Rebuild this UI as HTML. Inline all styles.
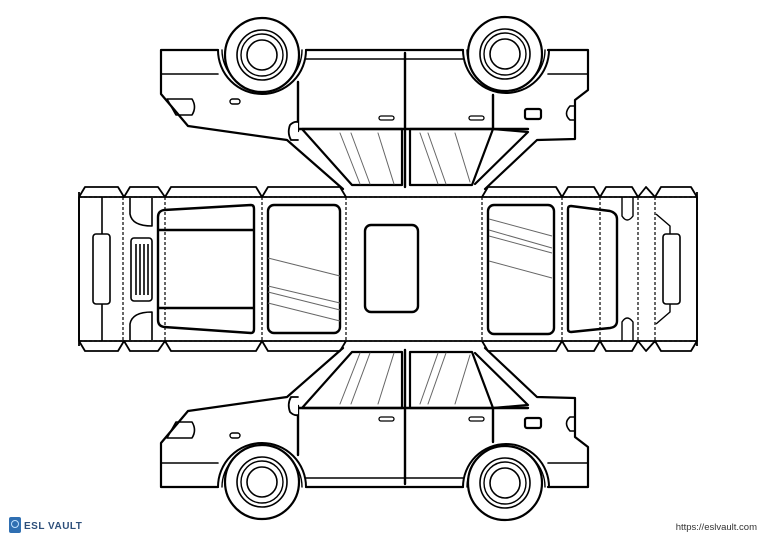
<!DOCTYPE html>
<html><head><meta charset="utf-8"><style>
html,body{margin:0;padding:0;background:#fff;width:768px;height:543px;overflow:hidden}
svg{display:block}
</style></head><body>
<svg width="768" height="543" viewBox="0 0 768 543" xmlns="http://www.w3.org/2000/svg">
<defs>
<g id="car" fill="none" stroke="#000" stroke-linejoin="round" stroke-linecap="round">
  <!-- body -->
  <path d="M218,487 L161,487 L161,443 L188,411 L287,397 L343,348 M485,348 L537,397 L575,398 L575,437 L588,447 L588,487 L548,487 M306,487 L463,487" stroke-width="2.2"/>
  <path d="M161,463 L218,463 M548,463 L588,463 M306,478 L463,478" stroke-width="1.6"/>
  <!-- arches -->
  <path d="M218,487 A44,44 0 0 1 306,487 M463,487 A43,43 0 0 1 549,487" stroke-width="2"/>
  <path d="M222,487 A40,40 0 0 1 302,487 M467,487 A39,39 0 0 1 545,487" stroke-width="1.4"/>
  <!-- windows -->
  <path d="M302,408 L352,352 L402,352 L402,408 Z" stroke-width="2.2"/>
  <path d="M410,352 L472,352 L493,408 L410,408 Z" stroke-width="2.2"/>
  <path d="M475,353 L528,405 L493,408" stroke-width="2.2"/>
  <path d="M340,404 L360,353 M351,404 L370,353 M378,404 L394,353 M420,404 L438,353 M428,404 L446,353 M455,404 L470,355" stroke="#666" stroke-width="1"/>
  <!-- doors -->
  <path d="M298,406 L298,455 M405,350 L405,484 M493,408 L493,442 M298,408 L528,408" stroke-width="2.4"/>
  <!-- mirror -->
  <path d="M298,397 L291,397 Q287,404 290,412 Q294,416 298,415" fill="#fff" stroke-width="1.8"/>
  <!-- headlight -->
  <path d="M167,438 L176,422 L192,422 Q197,430 192,438 Z" stroke-width="1.6"/>
  <rect x="230" y="433" width="10" height="5" rx="2.5" stroke-width="1.4"/>
  <rect x="379" y="417" width="15" height="4" rx="2" stroke-width="1.3"/>
  <rect x="469" y="417" width="15" height="4" rx="2" stroke-width="1.3"/>
  <rect x="525" y="418" width="16" height="10" rx="2" stroke-width="2.2"/>
  <path d="M575,417 L570,417 Q563,423 570,431 L575,431" stroke-width="1.6"/>
  <!-- wheels -->
  <g fill="#fff">
    <circle cx="262" cy="482" r="37" stroke-width="2.2"/>
    <circle cx="262" cy="482" r="25" stroke-width="1.6"/>
    <circle cx="262" cy="482" r="21" stroke-width="1.4"/>
    <circle cx="262" cy="482" r="15" stroke-width="1.6"/>
    <circle cx="505" cy="483" r="37" stroke-width="2.2"/>
    <circle cx="505" cy="483" r="25" stroke-width="1.6"/>
    <circle cx="505" cy="483" r="21" stroke-width="1.4"/>
    <circle cx="505" cy="483" r="15" stroke-width="1.6"/>
  </g>
</g>
</defs>

<use href="#car"/>
<use href="#car" transform="translate(0,537) scale(1,-1)"/>

<!-- central strip -->
<g fill="none" stroke="#000" stroke-linejoin="round">
  <!-- tabs top -->
  <path d="M79,197 L85,187 L118,187 L124,197 L130,187 L158,187 L165,197 L171,187 L256,187 L262,197 L268,187 L340,187 L346,197 M482,197 L488,187 L556,187 L562,197 L568,187 L594,187 L600,197 L606,187 L632,187 L638,197 L646,187 L655,197 L661,187 L691,187 L697,197" stroke-width="1.8"/>
  <path d="M79,341 L85,351 L118,351 L124,341 L130,351 L158,351 L165,341 L171,351 L256,351 L262,341 L268,351 L340,351 L346,341 M482,341 L488,351 L556,351 L562,341 L568,351 L594,351 L600,341 L606,351 L632,351 L638,341 L646,351 L655,341 L661,351 L691,351 L697,341" stroke-width="1.8"/>
  <rect x="79" y="197" width="618" height="144" stroke-width="1.8"/>
  <path d="M79,197 L697,197 M79,341 L697,341 M123,197 L123,341 M165,197 L165,341 M262,197 L262,341 M346,197 L346,341 M482,197 L482,341 M562,197 L562,341 M600,197 L600,341 M638,197 L638,341 M655,197 L655,341" stroke-width="1.2" stroke-dasharray="3,2"/>
  <path d="M79,192 L79,346 M697,192 L697,346" stroke-width="1.8"/>
  <!-- left bumper -->
  <path d="M102,197 L102,341" stroke-width="1.6"/>
  <rect x="93" y="234" width="17" height="70" rx="3" fill="#fff" stroke-width="1.6"/>
  <!-- grille -->
  <rect x="131" y="238" width="21" height="63" rx="3" stroke-width="1.6"/>
  <path d="M136,244 V295 M140,244 V295 M144,244 V295 M148,244 V295" stroke-width="1.6"/>
  <path d="M130,198 L130,214 Q132,226 152,226 L152,198" stroke-width="1.6"/>
  <path d="M130,340 L130,324 Q132,312 152,312 L152,340" stroke-width="1.6"/>
  <!-- hood window -->
  <path d="M164,210 L251,205 Q254,205 254,209 L254,329 Q254,333 251,333 L164,327 Q158,326 158,320 L158,217 Q158,211 164,210 Z" stroke-width="2.4"/>
  <path d="M158,230 L254,230 M158,308 L254,308" stroke-width="2.4"/>
  <!-- windshield -->
  <rect x="268" y="205" width="72" height="128" rx="6" stroke-width="2.4"/>
  <path d="M268,258 L340,276 M268,286 L340,303 M268,292 L340,310 M268,303 L340,321" stroke="#666" stroke-width="1"/>
  <!-- roof -->
  <rect x="365" y="225" width="53" height="87" rx="6" stroke-width="2.4"/>
  <!-- rear window -->
  <rect x="488" y="205" width="66" height="129" rx="6" stroke-width="2.4"/>
  <path d="M489,219 L552,236 M489,230 L552,248 M489,236 L552,253 M489,261 L552,278" stroke="#666" stroke-width="1"/>
  <!-- trunk window -->
  <path d="M571,206 L610,211 Q617,213 617,219 L617,321 Q617,327 610,328 L571,332 Q568,332 568,329 L568,209 Q568,206 571,206 Z" stroke-width="2.4"/>
  <path d="M622,197 L622,216 Q627,224 633,216 L633,197 M622,341 L622,322 Q627,314 633,322 L633,341" stroke-width="1.4"/>
  <!-- rear -->
  <path d="M656,214 L670,226 L670,312 L656,324" stroke-width="1.4"/>
  <rect x="663" y="234" width="17" height="70" rx="3" fill="#fff" stroke-width="1.6"/>
</g>

<!-- footer -->
<rect x="9" y="517" width="12" height="16" rx="2" fill="#2f6fb2"/>
<circle cx="15" cy="524" r="3.5" fill="none" stroke="#bfe0ff" stroke-width="1"/>
<text x="24" y="529" font-family="Liberation Sans, sans-serif" font-size="10" font-weight="bold" fill="#2d4f7a" letter-spacing="0.5">ESL VAULT</text>
<text x="757" y="530" text-anchor="end" font-family="Liberation Sans, sans-serif" font-size="9.5" fill="#333">https://eslvault.com</text>
</svg>
</body></html>
